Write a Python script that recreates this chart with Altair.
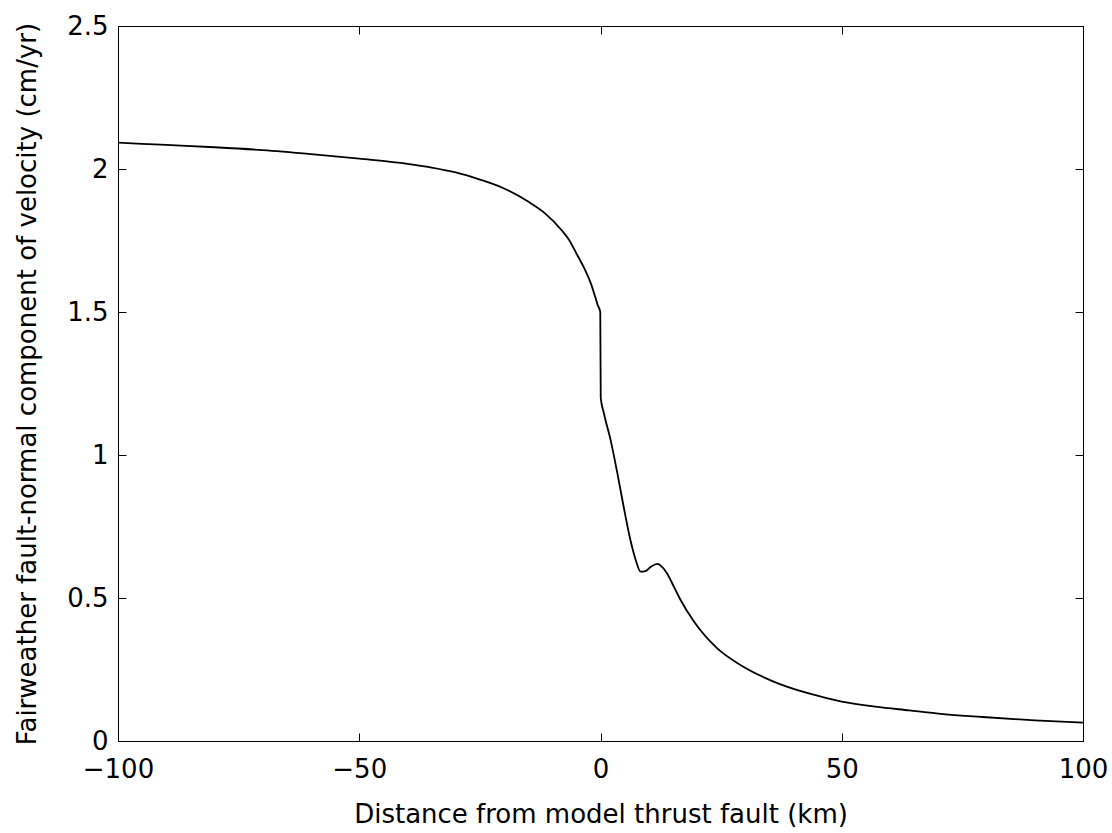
import altair as alt
import pandas as pd

# Distance from model thrust fault (km)
dist = [-100, -90, -80, -70, -60, -50, -40, -35, -30, -25, -20, -15, -11.5, -8,
        -6.5, -5, -3.2, -2, -1.1, -0.6, -0.05, 0.05, 0.7, 2.1, 3.5, 4.8, 6.2,
        7.3, 8.3, 9.3, 10.5, 11.8, 12.8, 13.8, 15.2, 16.6, 19.4, 24.2, 29, 36,
        43, 50, 57, 64, 70, 80, 90, 100]
# Fault-normal component of velocity (cm/yr)
vel = [2.092, 2.084, 2.076, 2.066, 2.052, 2.036, 2.018, 2.005, 1.988, 1.963,
       1.932, 1.886, 1.845, 1.785, 1.752, 1.705, 1.647, 1.600, 1.553, 1.525,
       1.500, 1.200, 1.146, 1.052, 0.936, 0.819, 0.703, 0.633, 0.592, 0.594,
       0.610, 0.619, 0.608, 0.586, 0.540, 0.493, 0.417, 0.324, 0.266, 0.207,
       0.167, 0.138, 0.120, 0.107, 0.096, 0.083, 0.072, 0.064]

x_ticks = [-100, -50, 0, 50, 100]
y_ticks = [0, 0.5, 1, 1.5, 2, 2.5]

df = pd.DataFrame({"dist": dist, "vel": vel})

FONT = "DejaVu Sans"
FS = 26
W, H = 965, 715
TICK = 8

x_scale = alt.Scale(domain=[-100, 100], nice=False, zero=False)
y_scale = alt.Scale(domain=[0, 2.5], nice=False, zero=False)

common = dict(grid=False, domain=False, tickColor="black", tickWidth=1,
              tickSize=TICK, offset=-TICK)

main = alt.Chart(df).mark_line(color="black", strokeWidth=1.8,
                               interpolate="monotone").encode(
    x=alt.X("dist:Q", scale=x_scale,
            axis=alt.Axis(orient="bottom", values=x_ticks,
                          title="Distance from model thrust fault (km)",
                          labelPadding=15, titlePadding=19, labelFlush=False,
                          labelFont=FONT, labelFontSize=FS, labelColor="black",
                          titleFont=FONT, titleFontSize=FS, titleColor="black",
                          titleFontWeight="normal", **common)),
    y=alt.Y("vel:Q", scale=y_scale,
            axis=alt.Axis(orient="left", values=y_ticks, format="~g",
                          title="Fairweather fault-normal component of velocity (cm/yr)",
                          labelPadding=10, titlePadding=26, labelFlush=False,
                          labelFont=FONT, labelFontSize=FS, labelColor="black",
                          titleFont=FONT, titleFontSize=FS, titleColor="black",
                          titleFontWeight="normal", **common)),
)

frame = alt.Chart(df).mark_line(opacity=0).encode(
    x=alt.X("dist:Q", scale=x_scale,
            axis=alt.Axis(orient="top", values=x_ticks, labels=False, title="",
                          **common)),
    y=alt.Y("vel:Q", scale=y_scale,
            axis=alt.Axis(orient="right", values=y_ticks, labels=False, title="",
                          **common)),
)

chart = alt.layer(main, frame).resolve_axis(
    x="independent", y="independent"
).properties(
    width=W, height=H,
    autosize=alt.AutoSizeParams(type="none"),
    padding={"left": 118, "top": 26, "right": 29, "bottom": 92},
    background="white",
).configure_view(stroke="black", strokeWidth=1)

chart.save("out.html", embed_options={"renderer": "svg", "actions": False})
